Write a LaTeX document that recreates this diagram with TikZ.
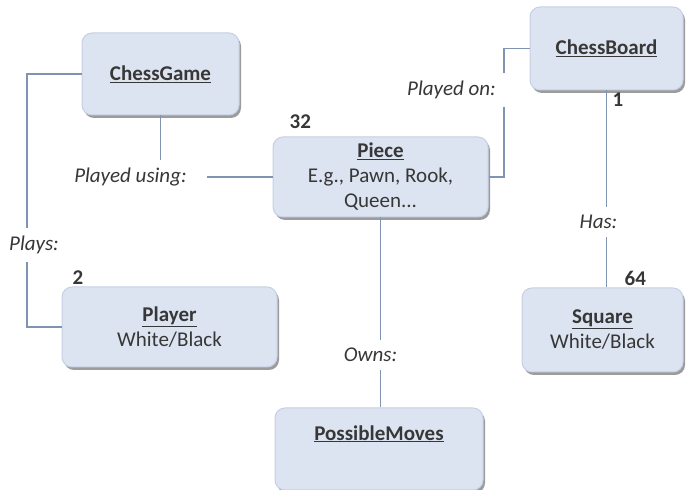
\documentclass[tikz,border=0pt]{standalone}
\usepackage{fontspec}
\setmainfont{Carlito}
\usetikzlibrary{positioning, shadows}
\definecolor{boxfill}{RGB}{221,228,241}
\definecolor{boxedge}{RGB}{198,208,228}
\definecolor{wireblue}{RGB}{128,147,178}
\definecolor{ink}{RGB}{55,55,55}
\tikzset{
classbox/.style={rectangle, rounded corners=10pt, fill=boxfill, draw=boxedge, line width=1pt, align=center, text=ink, font=\fontsize{21}{25}\selectfont, drop shadow={shadow xshift=2pt, shadow yshift=-3pt, fill=black!55, opacity=.7}}, % the class boxes
role/.style={font=\fontsize{21}{25}\selectfont\itshape, text=ink, inner sep=8pt}, % the names on the lines
mult/.style={font=\fontsize{21}{25}\selectfont\bfseries, text=ink, inner sep=2pt}, % the multiplicities
wire/.style={draw=wireblue, line width=1.6pt}, % the association lines
}

\begin{document}
\begin{tikzpicture}[x=1pt, y=1pt]
    \useasboundingbox[fill=white] (0,0) rectangle (686,490);
    \node[classbox, minimum width=157pt, minimum height=82pt] (game) at (160.5,416) {\underline{\textbf{ChessGame}}};
    \node[classbox, minimum width=215pt, minimum height=80pt] (piece) at (380.5,313) {\underline{\textbf{Piece}}\\E.g., Pawn, Rook,\\Queen...};
    \node[classbox, minimum width=153pt, minimum height=83pt] (board) at (606.5,441.5) {\underline{\textbf{ChessBoard}}};
    \node[classbox, minimum width=215pt, minimum height=80pt] (player) at (169.5,163) {\underline{\textbf{Player}}\\White/Black};
    \node[classbox, minimum width=161pt, minimum height=84pt] (square) at (602.5,160) {\underline{\textbf{Square}}\\White/Black};
    \node[classbox, minimum width=208pt, minimum height=82pt] (moves) at (379,41) {\underline{\textbf{PossibleMoves}}\\ \strut};
    \node[mult, above right=0pt and 9pt of player.north west] (two) {2};
    \node[mult, above right=6pt and 15pt of piece.north west] (thirtytwo) {32};
    \node[mult, below right=0pt and 4pt of board.south] (one) {1};
    \node[mult, above right=0pt and 20pt of square.north] (sixtyfour) {64};
    \node[role] (plays) at (34,245) {Plays:};
    \node[role] (using) at (130.5,313) {Played using:};
    \node[role] (on) at (451.5,400) {Played on:};
    \node[role] (has) at (598.5,268) {Has:};
    \node[role] (owns) at (370.5,135) {Owns:};
    \draw[wire] (game.west) -| ([xshift=-7pt]plays.north);
    \draw[wire] ([xshift=-7pt]plays.south) |- (player.west);
    \draw[wire] (game.south) -- (game.south |- using.north);
    \draw[wire] ([xshift=12pt]using.east) -- (piece.west);
    \draw[wire] (piece.east) -| (on.south east);
    \draw[wire] (on.north east) |- (board.west);
    \draw[wire] (board.south) -- (board.south |- has.north);
    \draw[wire] (board.south |- has.south) -- (board.south |- square.north);
    \draw[wire] (piece.south) -- (piece.south |- owns.north);
    \draw[wire] (piece.south |- owns.south) -- (piece.south |- moves.north);
  \end{tikzpicture}
\end{document}
